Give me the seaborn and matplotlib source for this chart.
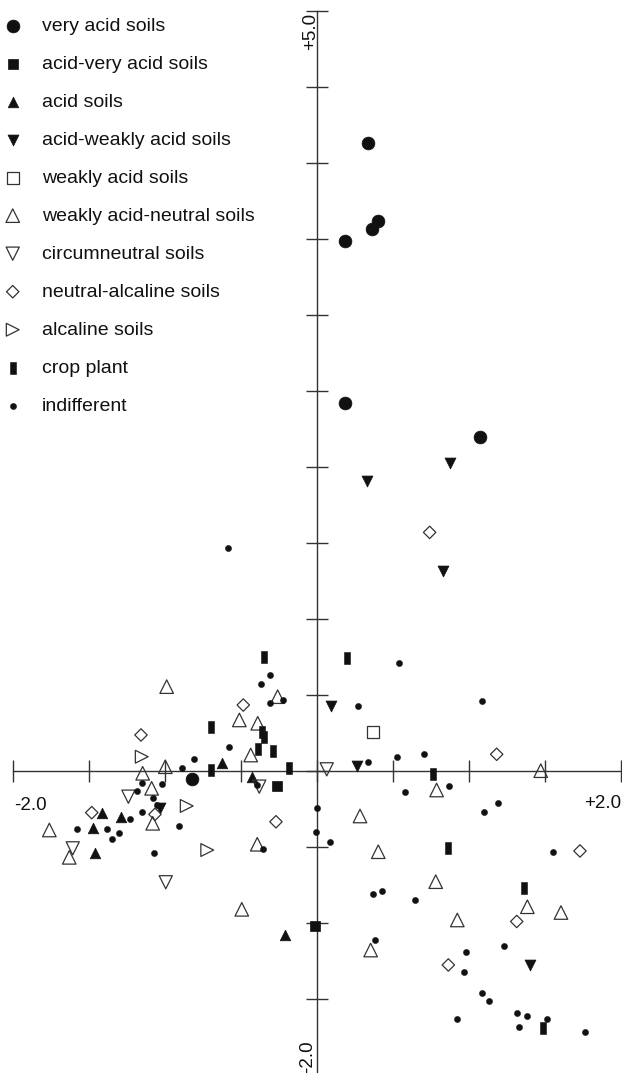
import numpy as np
import pandas as pd
import matplotlib
matplotlib.use("Agg")
import matplotlib.pyplot as plt
import matplotlib.path as mpath
import seaborn as sns

# ---------------- data ----------------
categories = ["very acid soils", "acid-very acid soils", "acid soils",
              "acid-weakly acid soils", "weakly acid soils",
              "weakly acid-neutral soils", "circumneutral soils",
              "neutral-alcaline soils", "alcaline soils", "crop plant",
              "indifferent"]

very_acid_x = [0.336, 0.401, 0.366, 0.186, 0.186, 1.074, -0.822]
very_acid_y = [4.132, 3.616, 3.562, 3.487, 2.417, 2.197, -0.057]

acid_very_acid_x = [-0.263, -0.011]
acid_very_acid_y = [-0.099, -1.022]

acid_x = [-0.625, -0.424, -1.411, -1.289, -1.474, -1.459, -0.209]
acid_y = [0.053, -0.039, -0.276, -0.307, -0.379, -0.543, -1.081]

acid_weak_x = [0.877, 0.329, 0.833, 0.094, 0.267, -1.031, 1.403]
acid_weak_y = [2.026, 1.906, 1.314, 0.426, 0.033, -0.247, -1.278]

weak_acid_x = [0.368]
weak_acid_y = [0.253]

weak_neutral_x = [-0.987, -0.257, -0.509, -0.388, -0.434, -0.996, -1.145, -1.086,
                  -1.079, -1.759, -1.628, -0.391, -0.493, 1.474, 0.789, 0.285,
                  0.405, 0.783, 1.386, 1.607, 0.925, 0.355]
weak_neutral_y = [0.553, 0.487, 0.334, 0.312, 0.103, 0.026, -0.017, -0.116,
                  -0.346, -0.390, -0.570, -0.484, -0.912, 0.000, -0.127, -0.298,
                  -0.533, -0.730, -0.895, -0.933, -0.982, -1.180]

circumneutral_x = [-0.378, -1.239, -1.605, -0.993, 0.066]
circumneutral_y = [-0.105, -0.171, -0.511, -0.734, 0.009]

neutral_alc_x = [0.743, -0.483, -1.156, -1.064, -1.480, -0.268, 1.184, 1.732, 1.316, 0.866]
neutral_alc_y = [1.568, 0.432, 0.235, -0.287, -0.276, -0.336, 0.108, -0.528, -0.992, -1.278]

alcaline_x = [-1.151, -0.855, -0.720]
alcaline_y = [0.092, -0.232, -0.522]

crop_x = [-0.347, -0.697, -0.362, -0.345, -0.384, -0.286, -0.697, -0.180,
          0.197, 0.767, 0.866, 1.366, 1.487]
crop_y = [0.746, 0.286, 0.257, 0.220, 0.141, 0.130, 0.005, 0.016,
          0.739, -0.022, -0.507, -0.770, -1.695]

indiff_x = [-0.584, -0.307, -0.366, -0.224, -0.307, -0.575, -0.807, -0.884,
            -1.151, -1.016, -1.180, -1.079, -1.049, -1.151, -1.228, -0.906,
            -1.579, -1.382, -1.301, -1.349, -1.070, -0.395, -0.355, 0.002,
            -0.005, 0.088, 0.543, 0.274, 1.086, 0.339, 0.526, 0.706, 0.872,
            0.581, 1.191, 1.101, 1.553, 0.368, 0.428, 0.647, 0.384, 0.982,
            1.234, 0.971, 1.086, 1.134, 0.925, 1.316, 1.386, 1.333, 1.517, 1.765]
indiff_y = [1.465, 0.630, 0.570, 0.465, 0.447, 0.158, 0.077, 0.016,
            -0.083, -0.089, -0.132, -0.182, -0.226, -0.274, -0.320, -0.362,
            -0.384, -0.384, -0.408, -0.449, -0.539, -0.094, -0.517, -0.243,
            -0.401, -0.471, 0.707, 0.426, 0.459, 0.059, 0.092, 0.108, -0.099,
            -0.138, -0.211, -0.270, -0.537, -0.813, -0.791, -0.851, -1.114, -1.195,
            -1.153, -1.326, -1.464, -1.515, -1.636, -1.596, -1.614, -1.684, -1.634, -1.717]

x_lists = [very_acid_x, acid_very_acid_x, acid_x, acid_weak_x, weak_acid_x,
           weak_neutral_x, circumneutral_x, neutral_alc_x, alcaline_x, crop_x, indiff_x]
y_lists = [very_acid_y, acid_very_acid_y, acid_y, acid_weak_y, weak_acid_y,
           weak_neutral_y, circumneutral_y, neutral_alc_y, alcaline_y, crop_y, indiff_y]

x_tick_labels = ["-2.0", "+2.0"]
y_tick_labels = ["+5.0", "-2.0"]

df = pd.concat([pd.DataFrame({"x": xs, "y": ys, "group": cat})
                for cat, xs, ys in zip(categories, x_lists, y_lists)],
               ignore_index=True)

# ---------------- styles ----------------
crop_marker = mpath.Path([(-0.24, -0.5), (0.24, -0.5), (0.24, 0.5), (-0.24, 0.5), (-0.24, -0.5)],
                         closed=True)
INK = "#111111"
OPEN = "#333333"
styles = {
    "very acid soils":           dict(marker="o", s=85, fc=INK, ec=INK, lw=0.5),
    "acid-very acid soils":      dict(marker="s", s=62, fc=INK, ec=INK, lw=0.5),
    "acid soils":                dict(marker="^", s=58, fc=INK, ec=INK, lw=0.5),
    "acid-weakly acid soils":    dict(marker="v", s=62, fc=INK, ec=INK, lw=0.5),
    "weakly acid soils":         dict(marker="s", s=75, fc="none", ec=OPEN, lw=0.9),
    "weakly acid-neutral soils": dict(marker="^", s=95, fc="none", ec=OPEN, lw=0.9),
    "circumneutral soils":       dict(marker="v", s=90, fc="none", ec=OPEN, lw=0.9),
    "neutral-alcaline soils":    dict(marker="D", s=40, fc="none", ec=OPEN, lw=0.9),
    "alcaline soils":            dict(marker=">", s=85, fc="none", ec=OPEN, lw=0.9),
    "crop plant":                dict(marker=crop_marker, s=70, fc=INK, ec=INK, lw=0.4),
    "indifferent":               dict(marker="o", s=20, fc=INK, ec=INK, lw=0.3),
}

sns.set_style("white")
plt.rcParams["font.family"] = ["Liberation Sans", "DejaVu Sans"]

W, H = 622, 1073
fig = plt.figure(figsize=(W / 100, H / 100), dpi=100)
ax = fig.add_axes([12.7 / W, (H - 1074.7) / H, 608 / W, 1064 / H])

for cat in categories:
    st = styles[cat]
    sub = df[df["group"] == cat]
    sns.scatterplot(data=sub, x="x", y="y", ax=ax, marker=st["marker"], s=st["s"],
                    facecolor=st["fc"], edgecolor=st["ec"], linewidth=st["lw"],
                    label=cat, zorder=3, clip_on=False)

ax.set_xlim(-2, 2)
ax.set_ylim(-2, 5)
ax.set_aspect("equal")
ax.set_xlabel("")
ax.set_ylabel("")

for side in ["top", "right"]:
    ax.spines[side].set_visible(False)
for side in ["left", "bottom"]:
    ax.spines[side].set_position(("data", 0))
    ax.spines[side].set_color("#333333")
    ax.spines[side].set_linewidth(1.0)

ax.set_xticks(np.arange(-2, 2.01, 0.5))
ax.set_yticks(np.arange(-2, 5.01, 0.5))
ax.tick_params(axis="both", which="major", direction="inout", length=15.5, width=1.0,
               color="#333333", bottom=True, left=True, top=False, right=False,
               labelbottom=False, labelleft=False)

# end labels
ax.text(-1.99, -0.226, x_tick_labels[0], ha="left", va="center", fontsize=13.5, color="#111111")
ax.text(2.005, -0.219, x_tick_labels[1], ha="right", va="center", fontsize=13.5, color="#111111")
ax.text(-0.04, 4.985, y_tick_labels[0], ha="center", va="top", rotation=90, fontsize=13.5, color="#111111")
ax.text(-0.06, -1.99, y_tick_labels[1], ha="center", va="bottom", rotation=90, fontsize=13.5, color="#111111")

leg = ax.legend(loc="upper left", bbox_to_anchor=(3 / W, 1 - 17 / H),
                bbox_transform=fig.transFigure, frameon=False, fontsize=14,
                handlelength=1.0, handletextpad=1.0, labelspacing=1.05,
                borderpad=0, borderaxespad=0, scatterpoints=1)
for t in leg.get_texts():
    t.set_color("#111111")

fig.savefig("out.png", dpi=100)
